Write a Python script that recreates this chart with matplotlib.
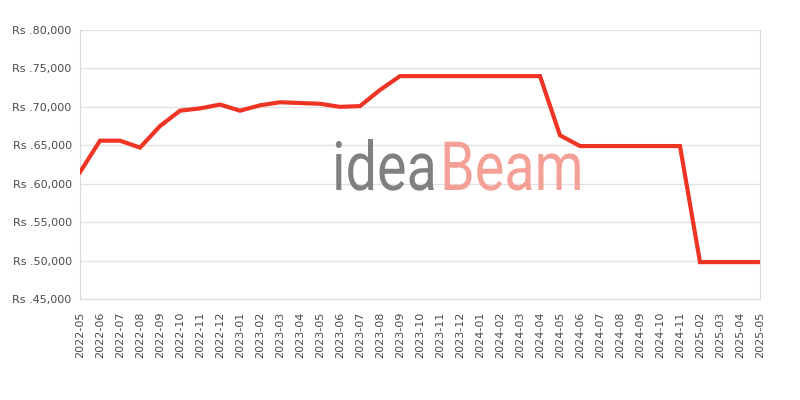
import matplotlib
matplotlib.use('Agg')
import matplotlib.pyplot as plt
from matplotlib.ticker import FuncFormatter
from matplotlib.textpath import TextPath
from matplotlib.patches import PathPatch
from matplotlib.font_manager import FontProperties
from matplotlib.transforms import Affine2D, IdentityTransform

# 月份标签（2024-12 和 2025-01 没有数据）
months = ['2022-05', '2022-06', '2022-07', '2022-08', '2022-09', '2022-10', '2022-11', '2022-12',
          '2023-01', '2023-02', '2023-03', '2023-04', '2023-05', '2023-06', '2023-07', '2023-08',
          '2023-09', '2023-10', '2023-11', '2023-12', '2024-01', '2024-02', '2024-03', '2024-04',
          '2024-05', '2024-06', '2024-07', '2024-08', '2024-09', '2024-10', '2024-11',
          '2025-02', '2025-03', '2025-04', '2025-05']

prices = [61500, 65600, 65600, 64700, 67500, 69500, 69800, 70300,
          69500, 70200, 70600, 70500, 70400, 70000, 70100, 72200,
          74000, 74000, 74000, 74000, 74000, 74000, 74000, 74000,
          66300, 64900, 64900, 64900, 64900, 64900, 64900,
          49800, 49800, 49800, 49800]

y_ticks = [45000, 50000, 55000, 60000, 65000, 70000, 75000, 80000]

fig = plt.figure(figsize=(8, 4), dpi=100)
ax = fig.add_axes([0.1, 0.2525, 0.85, 0.6725])

x = list(range(len(months)))
ax.plot(x, prices, color='#ee3524', linewidth=3, solid_joinstyle='miter', zorder=3)

ax.set_xlim(0, len(months) - 1)
ax.set_ylim(45000, 80000)
ax.set_yticks(y_ticks)
ax.yaxis.set_major_formatter(FuncFormatter(lambda v, p: 'Rs .{:,.0f}'.format(v)))
ax.set_xticks(x)
ax.set_xticklabels(months, rotation=90)

ax.grid(axis='y', color='#e2e2e2', linewidth=1)
ax.set_axisbelow(True)
ax.tick_params(axis='both', length=0, labelsize=8, labelcolor='#4a4a4a')
ax.tick_params(axis='y', pad=6)
ax.tick_params(axis='x', pad=9)
for s in ['left', 'right', 'bottom']:
    ax.spines[s].set_color('#d9d9d9')
ax.spines['top'].set_visible(False)

# 水印 ideaBeam
fp = FontProperties(family='Roboto', weight='normal')
p1 = TextPath((0, 0), 'idea', size=68, prop=fp)
p2 = TextPath((0, 0), 'Beam', size=68, prop=fp)
t1 = Affine2D().scale(0.82, 1.0).translate(332, 400 - 190)
t2 = Affine2D().scale(0.82, 1.0).translate(440, 400 - 190)
fig.patches.append(PathPatch(p1, transform=t1 + IdentityTransform(), color='#808080',
                             lw=0, zorder=2, figure=fig))
fig.patches.append(PathPatch(p2, transform=t2 + IdentityTransform(), color='#f5a097',
                             lw=0, zorder=2, figure=fig))

plt.savefig('out.png', dpi=100)
